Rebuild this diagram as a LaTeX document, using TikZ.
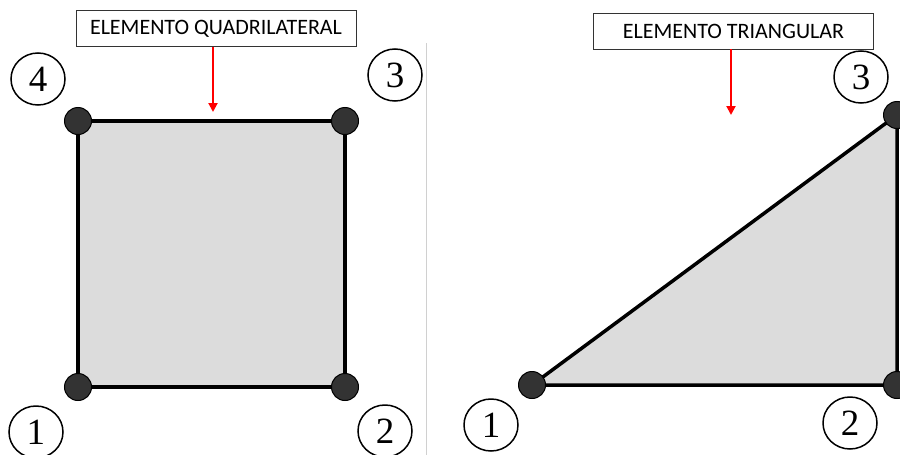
\documentclass[tikz,border=0pt]{standalone}
\usepackage{fontspec}
\setmainfont{Liberation Serif}
\newfontfamily\labelfont{Carlito}
\usetikzlibrary{arrows.meta,shapes.geometric}
\definecolor{elemfill}{HTML}{DCDCDC}
\definecolor{nodedark}{HTML}{333333}
\definecolor{sepgray}{HTML}{D0D0D0}
\begin{document}
\begin{tikzpicture}[x=1pt,y=-1pt,
  fem/.style={circle,fill=nodedark,draw=black,line width=1pt,minimum size=27pt,inner sep=0pt},
  num/.style={ellipse,draw=black,line width=1.5pt,minimum width=54pt,minimum height=52pt,inner sep=0pt,font=\fontsize{37}{37}\selectfont},
  titlebox/.style={draw=black!80,line width=0.8pt,minimum width=280pt,minimum height=36pt,inner sep=0pt,font=\labelfont\fontsize{22}{22}\selectfont},
  edge/.style={line width=3.5pt,line join=round},
  pointer/.style={red,line width=2pt,-{Triangle[length=9pt,width=9pt]}}]
\useasboundingbox (0,0) rectangle (900,455);
% separator
\draw[sepgray,line width=1pt] (426,43) -- (426,455);
% quadrilateral
\coordinate (q1) at (78,387);
\coordinate (q2) at (345,387);
\coordinate (q3) at (345,121);
\coordinate (q4) at (78,121);
\fill[elemfill] (q1) -- (q2) -- (q3) -- (q4) -- cycle;
\draw[edge] (q1) -- (q2) -- (q3) -- (q4) -- cycle;
\node[fem] (Q1) at (q1) {};
\node[fem] (Q2) at (q2) {};
\node[fem] (Q3) at (q3) {};
\node[fem] (Q4) at (q4) {};
\node[num] (n4) at (38,79) {4};
\node[num] (n3) at (395,75) {3};
\node[num] (n1) at (36,432) {1};
\node[num] (n2) at (385,431) {2};
\node[titlebox] (tq) at (216,28.5) {ELEMENTO QUADRILATERAL};
\coordinate (aq) at (213,112);
\draw[pointer] (tq.south -| aq) -- (aq);
% triangle
\coordinate (t1) at (532,385);
\coordinate (t2) at (897,385);
\coordinate (t3) at (897,115);
\fill[elemfill] (t1) -- (t2) -- (t3) -- cycle;
\draw[edge] (t1) -- (t2) -- (t3) -- cycle;
\node[fem] (T1) at (t1) {};
\node[fem] (T2) at (t2) {};
\node[fem] (T3) at (t3) {};
\node[num] (m1) at (491,425) {1};
\node[num] (m2) at (850,423) {2};
\node[num] (m3) at (861,77) {3};
\node[titlebox] (tt) at (733.5,31) {ELEMENTO TRIANGULAR};
\coordinate (at) at (731,115);
\draw[pointer] (tt.south -| at) -- (at);
\end{tikzpicture}
\end{document}
